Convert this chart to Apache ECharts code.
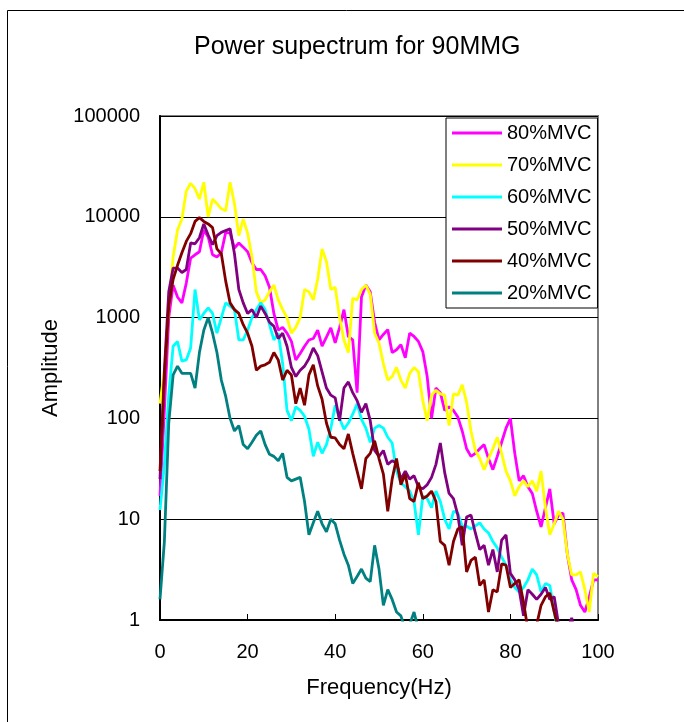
<!DOCTYPE html>
<html><head><meta charset="utf-8">
<script src="https://cdn.jsdelivr.net/npm/echarts@6/dist/echarts.min.js"></script>
<style>html,body{margin:0;padding:0;background:#fff}#c{width:684px;height:722px}</style>
</head><body><div id="c"></div><script>
const freq=[0,1,2,3,4,5,6,7,8,9,10,11,12,13,14,15,16,17,18,19,20,21,22,23,24,25,26,27,28,29,30,31,32,33,34,35,36,37,38,39,40,41,42,43,44,45,46,47,48,49,50,51,52,53,54,55,56,57,58,59,60,61,62,63,64,65,66,67,68,69,70,71,72,73,74,75,76,77,78,79,80,81,82,83,84,85,86,87,88,89,90,91,92,93,94,95,96,97,98,99,100];
const mvc80=[17,120,1000,2100,1600,1400,2200,3900,4200,4500,7400,6300,4200,4000,4400,7000,6900,4900,5500,5000,4500,3500,3000,3000,2600,2000,1100,750,800,700,580,380,440,520,600,620,750,520,640,790,560,800,1200,650,600,180,1600,2100,1800,900,600,680,760,450,480,540,400,700,650,580,460,260,100,200,180,120,130,120,103,75,50,42,45,50,55,40,31,42,58,80,100,45,24,27,21,18,12,8.4,13,20,9,11,11.5,4.5,2.5,2,1.4,1.2,1.7,2.5,2.5];
const mvc70=[140,300,1300,4000,7400,9500,18000,21500,19000,15000,22000,10000,15000,13500,12000,11500,22000,13500,6500,9500,6900,4000,1800,1400,1500,1800,2100,1500,1200,1000,700,800,1000,1900,1800,1500,2400,4800,3600,1900,2000,1000,600,450,1550,1500,1900,2100,1700,700,560,350,240,260,320,240,200,280,320,290,150,95,170,190,175,170,85,175,170,215,145,75,48,40,31,40,50,65,45,30,24,17,21,24,21,24,19,30,13,7,9,12,10,4.5,2.8,2.8,3,2,1.2,2.9,2.7];
const mvc60=[12.3,35,170,520,580,370,380,500,1900,950,1100,1250,1100,700,1000,1400,1300,1200,600,600,750,1000,1200,1400,1200,850,600,700,350,120,95,130,120,105,78,42,58,45,55,80,135,100,78,90,110,140,98,80,58,80,85,80,65,57,30,23,21,19,15,7,17,16,13,19,15,10,8,12,11.5,8.5,8.5,8,8.6,9.2,8,7.3,6,5.2,4.2,3.5,2.5,2.1,1.9,2.1,2.5,3.2,2.8,1.9,2.3,2.2,1.2,0.7,null,null,null,null,null,null,null,null,null];
const mvc50=[25,300,1800,3100,3100,2800,3000,5500,5400,6200,8500,6600,5300,6500,7000,7300,7600,4300,1900,1400,1100,1200,1000,1300,1100,900,820,620,700,520,320,260,300,330,390,500,420,290,200,170,160,95,200,230,180,150,115,140,95,48,42,48,35,38,36,25,30,25,27,21,20,22,26,35,57,29,18,16,11,5.5,10.5,11,7.3,5,5.5,3.5,5,3,6.2,7,2.9,2.5,2,1.1,2,1.8,1.6,1.8,2.1,1.6,1.7,0.9,0.6,0.8,1.05,0.6,null,null,null,null,null];
const mvc40=[30,250,1300,2400,3300,4400,5700,6800,9000,9800,9000,8500,7800,4800,4300,2300,1400,1200,1100,850,700,520,300,330,340,360,450,380,240,300,270,140,200,135,270,340,210,155,90,65,64,55,50,70,45,30,20,40,45,60,40,28,12,25,40,22,28,16,15,23,16,17,19,15,6,5.5,3.5,6,8,8.4,3,3.9,4.2,2.2,2.5,1.2,2,1.9,3.6,3.5,2.1,2.3,2.5,1.5,0.8,0.7,0.9,1.4,1.7,1.85,1.2,0.8,null,null,null,null,null,null,null,null,null];
const mvc20=[1.6,6,90,270,330,280,280,280,200,450,750,1000,700,450,240,165,100,75,85,55,50,58,68,75,55,44,42,38,45,26,24,25,26,15,7,9.2,12,9,7.5,10,9,6.2,4.5,3.5,2.3,2.7,3.2,2.6,2.4,5.5,3.2,1.4,2,1.6,1.2,1.1,0.8,0.9,1.2,0.8,null,null,null,null,null,null,null,null,null,null,null,null,null,null,null,null,null,null,null,null,null,null,null,null,null,null,null,null,null,null,null,null,null,null,null,null,null,null,null,null,null];
const seriesNames=['80%MVC','70%MVC','60%MVC','50%MVC','40%MVC','20%MVC'];
const seriesColors=['#FF00FF','#FFFF00','#00FFFF','#800080','#800000','#008080'];
const seriesValues=[mvc80,mvc70,mvc60,mvc50,mvc40,mvc20];
const yTicks=[1,10,100,1000,10000,100000];
const FONT='Liberation Sans';

const chart=echarts.init(document.getElementById('c'),null,{renderer:'canvas'});
const option={
  animation:false,
  backgroundColor:'#fff',
  textStyle:{fontFamily:FONT},
  graphic:[{type:'rect',shape:{x:7.5,y:10.5,width:700,height:730},style:{fill:'none',stroke:'#000',lineWidth:1},z:-1}],
  title:{text:'Power supectrum for 90MMG',left:189,top:30,
    textStyle:{fontFamily:FONT,fontSize:25,fontWeight:'normal',color:'#000'}},
  legend:{orient:'vertical',left:446,top:118,padding:[4,6,4,6],itemWidth:50,itemHeight:3,itemGap:10,icon:'rect',
    borderColor:'#000',borderWidth:1,backgroundColor:'#fff',
    textStyle:{fontFamily:FONT,fontSize:20,color:'#000',lineHeight:22},data:seriesNames},
  grid:{left:160,top:116,width:438,height:504,show:true,borderColor:'#808080',borderWidth:2,backgroundColor:'#fff'},
  xAxis:{type:'value',min:0,max:100,interval:20,
    axisLine:{lineStyle:{color:'#000',width:2}},
    axisTick:{inside:true,length:6,lineStyle:{color:'#000',width:1}},
    splitLine:{show:false},
    axisLabel:{fontFamily:FONT,fontSize:20,margin:22,color:'#000'},
    name:'Frequency(Hz)',nameLocation:'middle',nameGap:57,
    nameTextStyle:{fontFamily:FONT,fontSize:22,color:'#000'}},
  yAxis:{type:'log',logBase:10,min:yTicks[0],max:yTicks[yTicks.length-1],
    axisLine:{show:true,lineStyle:{color:'#000',width:2}},
    axisTick:{show:false},
    splitLine:{show:true,lineStyle:{color:'#000',width:1}},
    axisLabel:{fontFamily:FONT,fontSize:20,margin:20,color:'#000',formatter:v=>String(Math.round(v))},
    name:'Amplitude',nameLocation:'middle',nameGap:97,nameRotate:90,
    nameTextStyle:{fontFamily:FONT,fontSize:22,color:'#000'}},
  series:seriesNames.map((n,k)=>({
    name:n,type:'line',symbol:'none',showSymbol:false,clip:true,
    color:seriesColors[k],
    lineStyle:{color:seriesColors[k],width:2.8},
    data:freq.map((f,i)=>[f,seriesValues[k][i]])
  }))
};
chart.setOption(option);
</script></body></html>
